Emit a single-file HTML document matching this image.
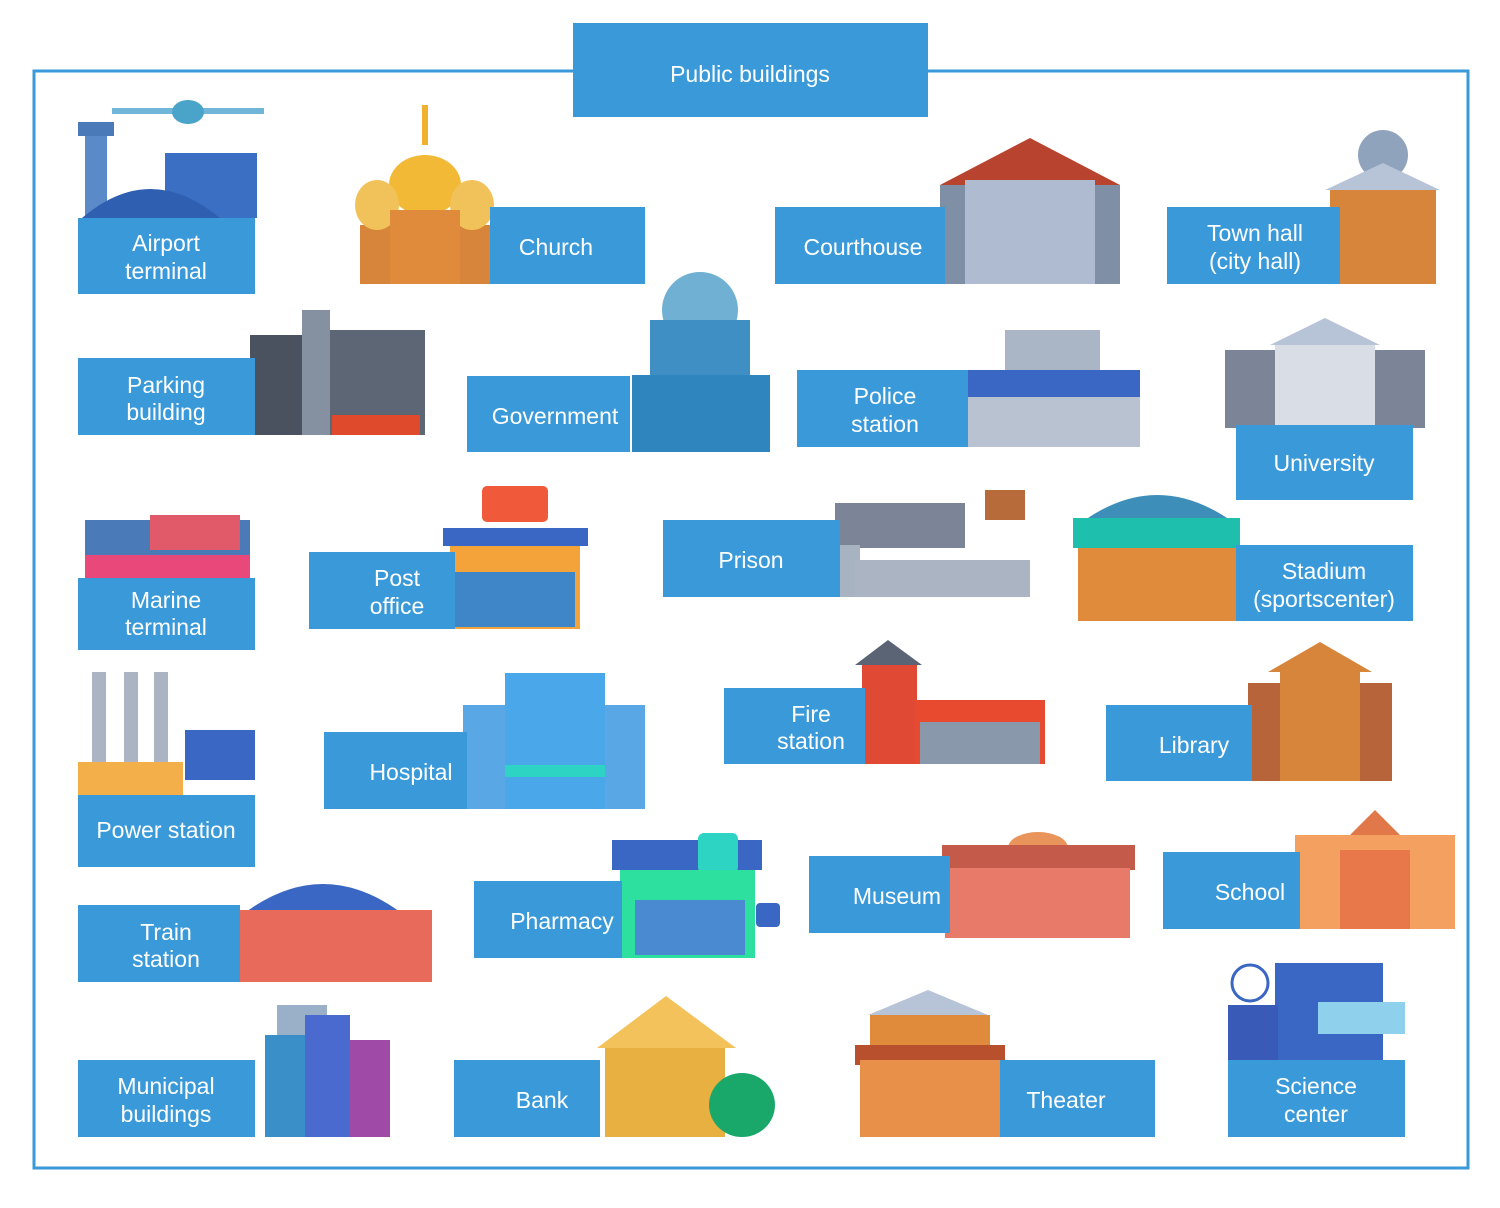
<!DOCTYPE html>
<html><head><meta charset="utf-8"><style>
html,body{margin:0;padding:0;background:#fff;}
svg{display:block}
text{font-family:"Liberation Sans",sans-serif;fill:#fff;font-size:23px;text-anchor:middle;}
</style></head><body>
<svg width="1500" height="1208" viewBox="0 0 1500 1208" xmlns="http://www.w3.org/2000/svg">
<rect x="34" y="71" width="1434" height="1097" fill="none" stroke="#3a9ad9" stroke-width="3"/>
<rect x="573" y="23" width="355" height="94" fill="#3a9ad9"/>
<text x="750" y="82" font-size="26">Public buildings</text>

<!-- Airport -->
<rect x="112" y="108" width="152" height="6" fill="#6fb6d8"/><ellipse cx="188" cy="112" rx="16" ry="12" fill="#4aa3c9"/>
<rect x="165" y="153" width="92" height="65" fill="#3b6fc4"/>
<rect x="85" y="130" width="22" height="88" fill="#5a8bc8"/><rect x="78" y="122" width="36" height="14" fill="#4a7ab8"/>
<path d="M82 218 Q150 160 220 218Z" fill="#2f5fb0"/>
<rect x="78" y="218" width="177" height="76" fill="#3a9ad9"/>
<text x="166" y="251">Airport</text><text x="166" y="279">terminal</text>

<!-- Church -->
<rect x="360" y="225" width="135" height="59" fill="#d7853a"/>
<ellipse cx="425" cy="185" rx="36" ry="30" fill="#f2b937"/><ellipse cx="377" cy="205" rx="22" ry="25" fill="#f2c25a"/><ellipse cx="472" cy="205" rx="22" ry="25" fill="#f2c25a"/>
<rect x="390" y="210" width="70" height="74" fill="#e08a3c"/>
<rect x="422" y="105" width="6" height="40" fill="#f0b030"/>
<rect x="490" y="207" width="155" height="77" fill="#3a9ad9"/>
<text x="556" y="255">Church</text>

<!-- Courthouse -->
<polygon points="940,185 1030,138 1120,185" fill="#b8432e"/>
<rect x="940" y="185" width="180" height="99" fill="#7f8fa6"/>
<rect x="965" y="180" width="130" height="104" fill="#aebbd0"/>
<rect x="775" y="207" width="170" height="77" fill="#3a9ad9"/>
<text x="863" y="255">Courthouse</text>

<!-- Town hall -->
<ellipse cx="1383" cy="155" rx="25" ry="25" fill="#8fa3bd"/>
<polygon points="1325,190 1383,163 1440,190" fill="#b7c3d6"/>
<rect x="1330" y="190" width="106" height="94" fill="#d7853a"/>
<rect x="1167" y="207" width="173" height="77" fill="#3a9ad9"/>
<text x="1255" y="241">Town hall</text><text x="1255" y="269">(city hall)</text>

<!-- Parking -->
<rect x="250" y="335" width="175" height="100" fill="#4a5260"/>
<rect x="302" y="310" width="28" height="125" fill="#8590a0"/>
<rect x="330" y="330" width="95" height="105" fill="#5d6675"/>
<rect x="332" y="415" width="88" height="20" fill="#e04a2c"/>
<rect x="78" y="358" width="177" height="77" fill="#3a9ad9"/>
<text x="166" y="393">Parking</text><text x="166" y="420">building</text>

<!-- Government -->
<ellipse cx="700" cy="310" rx="38" ry="38" fill="#6fb0d3"/>
<rect x="650" y="320" width="100" height="55" fill="#3f8fc4"/>
<rect x="632" y="375" width="138" height="77" fill="#2f85bd"/>
<rect x="467" y="376" width="163" height="76" fill="#3a9ad9"/>
<text x="555" y="424">Government</text>

<!-- Police -->
<rect x="1005" y="330" width="95" height="40" fill="#aab6c6"/>
<rect x="965" y="370" width="175" height="27" fill="#3a66c4"/>
<rect x="965" y="397" width="175" height="50" fill="#b8c2d0"/>
<rect x="797" y="370" width="171" height="77" fill="#3a9ad9"/>
<text x="885" y="404">Police</text><text x="885" y="432">station</text>

<!-- University -->
<rect x="1225" y="350" width="200" height="78" fill="#7b8597"/>
<polygon points="1270,345 1325,318 1380,345" fill="#b7c3d6"/>
<rect x="1275" y="345" width="100" height="83" fill="#d8dde6"/>
<rect x="1236" y="425" width="177" height="75" fill="#3a9ad9"/>
<text x="1324" y="471">University</text>

<!-- Marine -->
<rect x="85" y="520" width="165" height="40" fill="#4a7ab8"/>
<rect x="150" y="515" width="90" height="35" fill="#e05a6a"/>
<rect x="85" y="555" width="165" height="23" fill="#e8487a"/>
<rect x="78" y="578" width="177" height="72" fill="#3a9ad9"/>
<text x="166" y="608">Marine</text><text x="166" y="635">terminal</text>

<!-- Post office -->
<rect x="482" y="486" width="66" height="36" rx="5" fill="#f05a3a"/>
<rect x="443" y="528" width="145" height="18" fill="#3a66c4"/>
<rect x="450" y="546" width="130" height="83" fill="#f3a33a"/>
<rect x="455" y="572" width="120" height="55" fill="#3f86c8"/>
<rect x="309" y="552" width="146" height="77" fill="#3a9ad9"/>
<text x="397" y="586">Post</text><text x="397" y="614">office</text>

<!-- Prison -->
<rect x="835" y="503" width="130" height="45" fill="#7b8597"/>
<rect x="810" y="545" width="50" height="52" fill="#a8b3c2"/>
<rect x="855" y="560" width="175" height="37" fill="#aab4c3"/>
<rect x="985" y="490" width="40" height="30" fill="#b76a3a"/>
<rect x="663" y="520" width="177" height="77" fill="#3a9ad9"/>
<text x="751" y="568">Prison</text>

<!-- Stadium -->
<path d="M1085 520 Q1157 470 1230 520Z" fill="#3d8fb9"/>
<rect x="1073" y="518" width="167" height="30" fill="#1fbfae"/>
<rect x="1078" y="548" width="160" height="73" fill="#e08a3c"/>
<rect x="1236" y="545" width="177" height="76" fill="#3a9ad9"/>
<text x="1324" y="579">Stadium</text><text x="1324" y="607">(sportscenter)</text>

<!-- Power station -->
<rect x="92" y="672" width="14" height="90" fill="#aab4c3"/><rect x="124" y="672" width="14" height="90" fill="#aab4c3"/><rect x="154" y="672" width="14" height="90" fill="#aab4c3"/>
<rect x="78" y="762" width="105" height="40" fill="#f3b04a"/>
<rect x="185" y="730" width="70" height="50" fill="#3a66c4"/>
<rect x="78" y="795" width="177" height="72" fill="#3a9ad9"/>
<text x="166" y="838">Power station</text>

<!-- Hospital -->
<rect x="463" y="705" width="182" height="104" fill="#5aa7e6"/>
<rect x="505" y="673" width="100" height="136" fill="#4aa8ea"/>
<rect x="505" y="765" width="100" height="12" fill="#2dd4c4"/>
<rect x="324" y="732" width="143" height="77" fill="#3a9ad9"/>
<text x="411" y="780">Hospital</text>

<!-- Fire station -->
<polygon points="855,665 888,640 922,665" fill="#5a6475"/>
<rect x="862" y="665" width="55" height="99" fill="#e04a35"/>
<rect x="915" y="700" width="130" height="64" fill="#e84a30"/>
<rect x="920" y="722" width="120" height="42" fill="#8a98ab"/>
<rect x="724" y="688" width="141" height="76" fill="#3a9ad9"/>
<text x="811" y="722">Fire</text><text x="811" y="749">station</text>

<!-- Library -->
<polygon points="1268,672 1320,642 1372,672" fill="#d7853a"/>
<rect x="1248" y="683" width="144" height="98" fill="#b8643a"/>
<rect x="1280" y="672" width="80" height="109" fill="#d7853a"/>
<rect x="1106" y="705" width="146" height="76" fill="#3a9ad9"/>
<text x="1194" y="753">Library</text>

<!-- Train station -->
<path d="M238 918 Q323 850 408 918Z" fill="#3a66c4"/>
<rect x="215" y="910" width="217" height="72" fill="#e86a5a"/>
<rect x="78" y="905" width="162" height="77" fill="#3a9ad9"/>
<text x="166" y="940">Train</text><text x="166" y="967">station</text>

<!-- Pharmacy -->
<rect x="612" y="840" width="150" height="30" fill="#3a66c4"/>
<rect x="698" y="833" width="40" height="40" rx="6" fill="#2dd4c4"/>
<rect x="620" y="870" width="135" height="88" fill="#2ee0a0"/>
<rect x="635" y="900" width="110" height="55" fill="#4a8ad0"/>
<rect x="756" y="903" width="24" height="24" rx="4" fill="#3a66c4"/>
<rect x="474" y="881" width="148" height="77" fill="#3a9ad9"/>
<text x="562" y="929">Pharmacy</text>

<!-- Museum -->
<ellipse cx="1038" cy="848" rx="30" ry="16" fill="#e8945a"/>
<rect x="942" y="845" width="193" height="25" fill="#c45a4a"/>
<rect x="945" y="868" width="185" height="70" fill="#e87a6a"/>
<rect x="809" y="856" width="141" height="77" fill="#3a9ad9"/>
<text x="897" y="904">Museum</text>

<!-- School -->
<polygon points="1335,850 1375,810 1415,850" fill="#e0784a"/>
<rect x="1295" y="835" width="160" height="94" fill="#f3a060"/>
<rect x="1340" y="850" width="70" height="79" fill="#e8784a"/>
<rect x="1163" y="852" width="137" height="77" fill="#3a9ad9"/>
<text x="1250" y="900">School</text>

<!-- Municipal -->
<rect x="277" y="1005" width="50" height="132" fill="#9ab0c8"/>
<rect x="265" y="1035" width="40" height="102" fill="#3a8fc8"/>
<rect x="305" y="1015" width="45" height="122" fill="#4a6ad0"/>
<rect x="350" y="1040" width="40" height="97" fill="#a04aa8"/>
<rect x="78" y="1060" width="177" height="77" fill="#3a9ad9"/>
<text x="166" y="1094">Municipal</text><text x="166" y="1122">buildings</text>

<!-- Bank -->
<polygon points="597,1048 666,996 736,1048" fill="#f3c25a"/>
<rect x="605" y="1048" width="120" height="89" fill="#e8b040"/>
<ellipse cx="742" cy="1105" rx="33" ry="32" fill="#1aa86a"/>
<rect x="454" y="1060" width="146" height="77" fill="#3a9ad9"/>
<text x="542" y="1108">Bank</text>

<!-- Theater -->
<polygon points="868,1015 928,990 988,1015" fill="#b7c3d6"/>
<rect x="870" y="1015" width="120" height="35" fill="#e08a3c"/>
<rect x="855" y="1045" width="150" height="20" fill="#b8502e"/>
<rect x="860" y="1060" width="142" height="77" fill="#e8904a"/>
<rect x="1000" y="1060" width="155" height="77" fill="#3a9ad9"/>
<text x="1066" y="1108">Theater</text>

<!-- Science center -->
<rect x="1275" y="963" width="108" height="100" fill="#3a66c4"/>
<rect x="1228" y="1005" width="50" height="60" fill="#3a5ab8"/>
<rect x="1318" y="1002" width="87" height="32" fill="#8fd0ec"/>
<circle cx="1250" cy="983" r="18" fill="none" stroke="#3a66c4" stroke-width="3"/>
<rect x="1228" y="1060" width="177" height="77" fill="#3a9ad9"/>
<text x="1316" y="1094">Science</text><text x="1316" y="1122">center</text>
</svg>
</body></html>
